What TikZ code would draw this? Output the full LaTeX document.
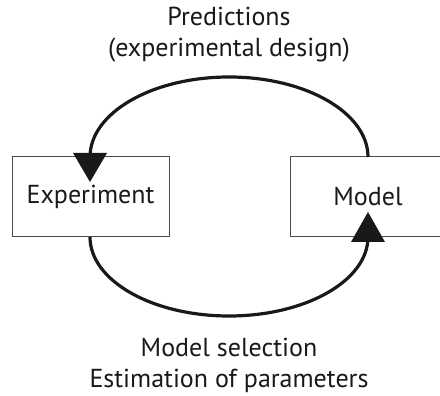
\documentclass[tikz,border=0pt]{standalone}
\usepackage{fontspec}
\setmainfont{PT Sans}
\begin{document}
\begin{tikzpicture}[x=1pt,y=1pt,
  box/.style={draw=black!70, line width=1pt, rectangle, inner sep=0pt},
  label/.style={font=\fontsize{26}{31}\selectfont, text=black!90, align=center},
  loop/.style={line width=3.2pt, draw=black!90},
  tip/.style={fill=black!90}]
\useasboundingbox (0,0) rectangle (440,396);
\clip (0,0) rectangle (440,396);

% boxes
\node[box, minimum width=157pt, minimum height=80pt] (exp) at (90.5,199) {};
\node[label] at (exp.center) {Experiment};
\node[box, minimum width=160pt, minimum height=80pt] (mod) at (370,199) {};
\node[label] at (368,199) {Model};

% anchor points of the two loops
\coordinate (mtop) at (368,239);
\coordinate (etop) at (90,239);
\coordinate (ebot) at (90,159);
\coordinate (mbot) at (368,159);

% upper loop: model -> experiment
\draw[loop] (mtop) arc[start angle=0, end angle=180, x radius=139, y radius=80] -- ++(0,-6);
\fill[tip] (73,243) -- (107,243) -- (90,214) -- cycle;

% lower loop: experiment -> model
\draw[loop] (ebot) arc[start angle=180, end angle=360, x radius=139, y radius=79] -- ++(0,6);
\fill[tip] (351,154) -- (385,154) -- (368,184) -- cycle;

% captions
\node[label] (top) at (229,361) {Predictions\\(experimental design)};
\node[label] (bot) at (229,31) {Model selection\\Estimation of parameters};
\end{tikzpicture}
\end{document}
